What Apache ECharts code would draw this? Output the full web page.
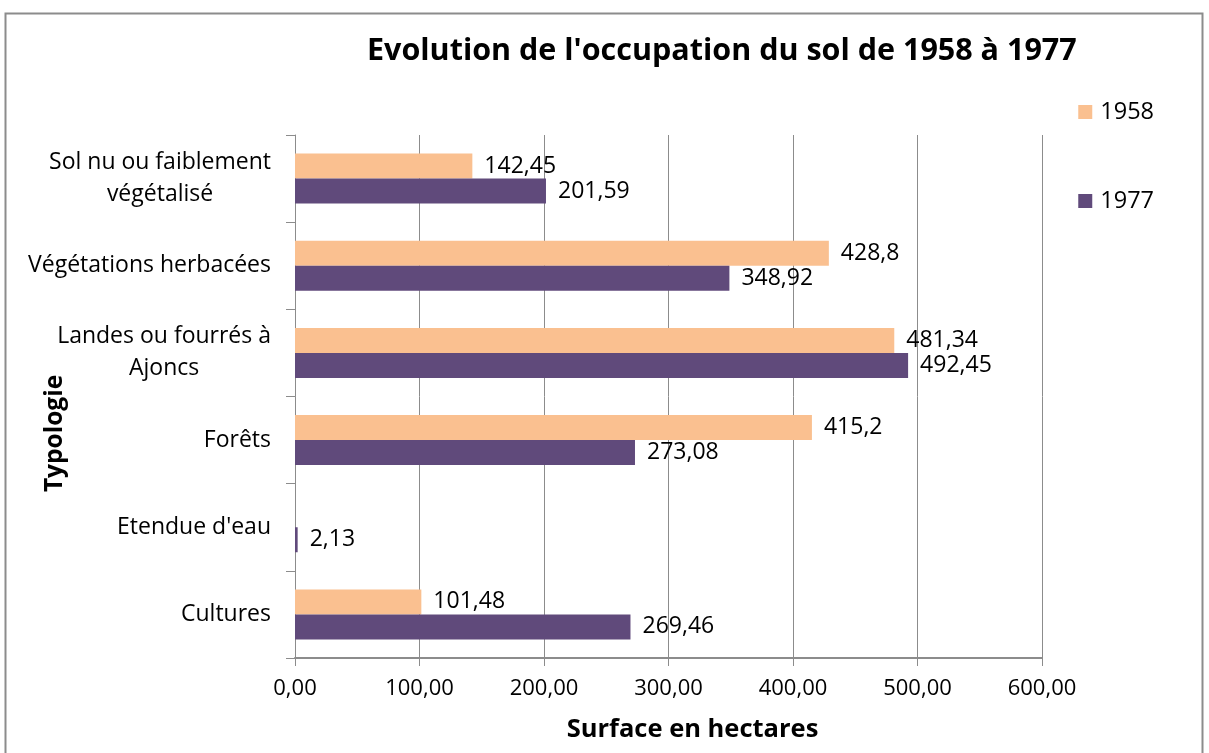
<!DOCTYPE html>
<html>
<head>
<meta charset="utf-8">
<script src="https://cdn.jsdelivr.net/npm/echarts@6/dist/echarts.min.js"></script>
<style>
  html, body { margin: 0; padding: 0; background: #fff; }
  #chart { width: 1209px; height: 753px; }
</style>
</head>
<body>
<div id="chart"></div>
<script>
// categories, top to bottom
var categories = [
  'Sol nu ou faiblement\nvégétalisé',
  'Végétations herbacées',
  'Landes ou fourrés à\nAjoncs',
  'Forêts',
  "Etendue d'eau",
  'Cultures'
];
var values1958 = [142.45, 428.8, 481.34, 415.2, null, 101.48];
var values1977 = [201.59, 348.92, 492.45, 273.08, 2.13, 269.46];
var seriesNames = ['1958', '1977'];

var font = '"Open Sans", Lato, sans-serif';

function frNum(v) {
  return String(v).replace('.', ',');
}

var myChart = echarts.init(document.getElementById('chart'));
myChart.setOption({
  animation: false,
  color: ['#FAC090', '#604A7B'],
  title: {
    text: "Evolution de l'occupation du sol de 1958 à 1977",
    left: 362,
    top: 31,
    textStyle: {
      fontFamily: font,
      fontWeight: 'bold',
      fontSize: 30.5,
      color: '#000'
    }
  },
  graphic: [{
    type: 'rect',
    shape: { x: 5.5, y: 13.5, width: 1197, height: 760 },
    style: { fill: 'none', stroke: '#8c8c8c', lineWidth: 2 },
    silent: true
  }],
  legend: {
    data: seriesNames,
    orient: 'vertical',
    right: 50,
    top: 95,
    itemWidth: 14,
    itemHeight: 14,
    itemGap: 65,
    icon: 'rect',
    textStyle: { fontFamily: font, fontSize: 23.5, color: '#000', padding: [0, 0, 0, 3] }
  },
  grid: {
    left: 295,
    right: 167,
    top: 135,
    bottom: 95
  },
  xAxis: {
    type: 'value',
    min: 0,
    max: 600,
    interval: 100,
    name: 'Surface en hectares',
    nameLocation: 'middle',
    nameGap: 59,
    nameMoveOverlap: false,
    nameTextStyle: {
      fontFamily: font,
      fontWeight: 'bold',
      fontSize: 25.5,
      color: '#000',
      padding: [0, 0, 0, 48]
    },
    axisLine: { show: true, lineStyle: { color: '#8c8c8c', width: 2 } },
    axisTick: { show: true, length: 8, lineStyle: { color: '#8c8c8c' } },
    axisLabel: {
      fontFamily: font,
      fontSize: 22,
      color: '#000',
      margin: 20,
      formatter: function (v) { return v.toFixed(2).replace('.', ','); }
    },
    splitLine: { show: true, lineStyle: { color: '#8c8c8c', width: 1 } }
  },
  yAxis: {
    type: 'category',
    inverse: true,
    data: categories,
    name: 'Typologie',
    nameLocation: 'middle',
    nameRotate: 90,
    nameGap: 227,
    nameMoveOverlap: false,
    nameTextStyle: {
      fontFamily: font,
      fontWeight: 'bold',
      fontSize: 24.5,
      color: '#000',
      padding: [0, 74, 0, 0]
    },
    axisLine: { show: true, lineStyle: { color: '#8c8c8c', width: 1 } },
    axisTick: { show: true, length: 9, lineStyle: { color: '#8c8c8c' } },
    axisLabel: {
      margin: 24,
      formatter: function (v) {
        return v.split('\n').map(function (s) { return '{c|' + s + '}'; }).join('\n');
      },
      rich: {
        c: {
          align: 'center',
          fontFamily: font,
          fontSize: 23,
          color: '#000',
          lineHeight: 32
        }
      }
    }
  },
  series: [
    {
      name: seriesNames[0],
      type: 'bar',
      data: values1958,
      barWidth: 25,
      barGap: '0%',
      label: {
        show: true,
        position: 'right',
        distance: 12,
        fontFamily: font,
        fontSize: 23,
        color: '#000',
        formatter: function (p) { return frNum(p.value); }
      }
    },
    {
      name: seriesNames[1],
      type: 'bar',
      data: values1977,
      barWidth: 25,
      barGap: '0%',
      label: {
        show: true,
        position: 'right',
        distance: 12,
        fontFamily: font,
        fontSize: 23,
        color: '#000',
        formatter: function (p) { return frNum(p.value); }
      }
    }
  ]
});
</script>
</body>
</html>
